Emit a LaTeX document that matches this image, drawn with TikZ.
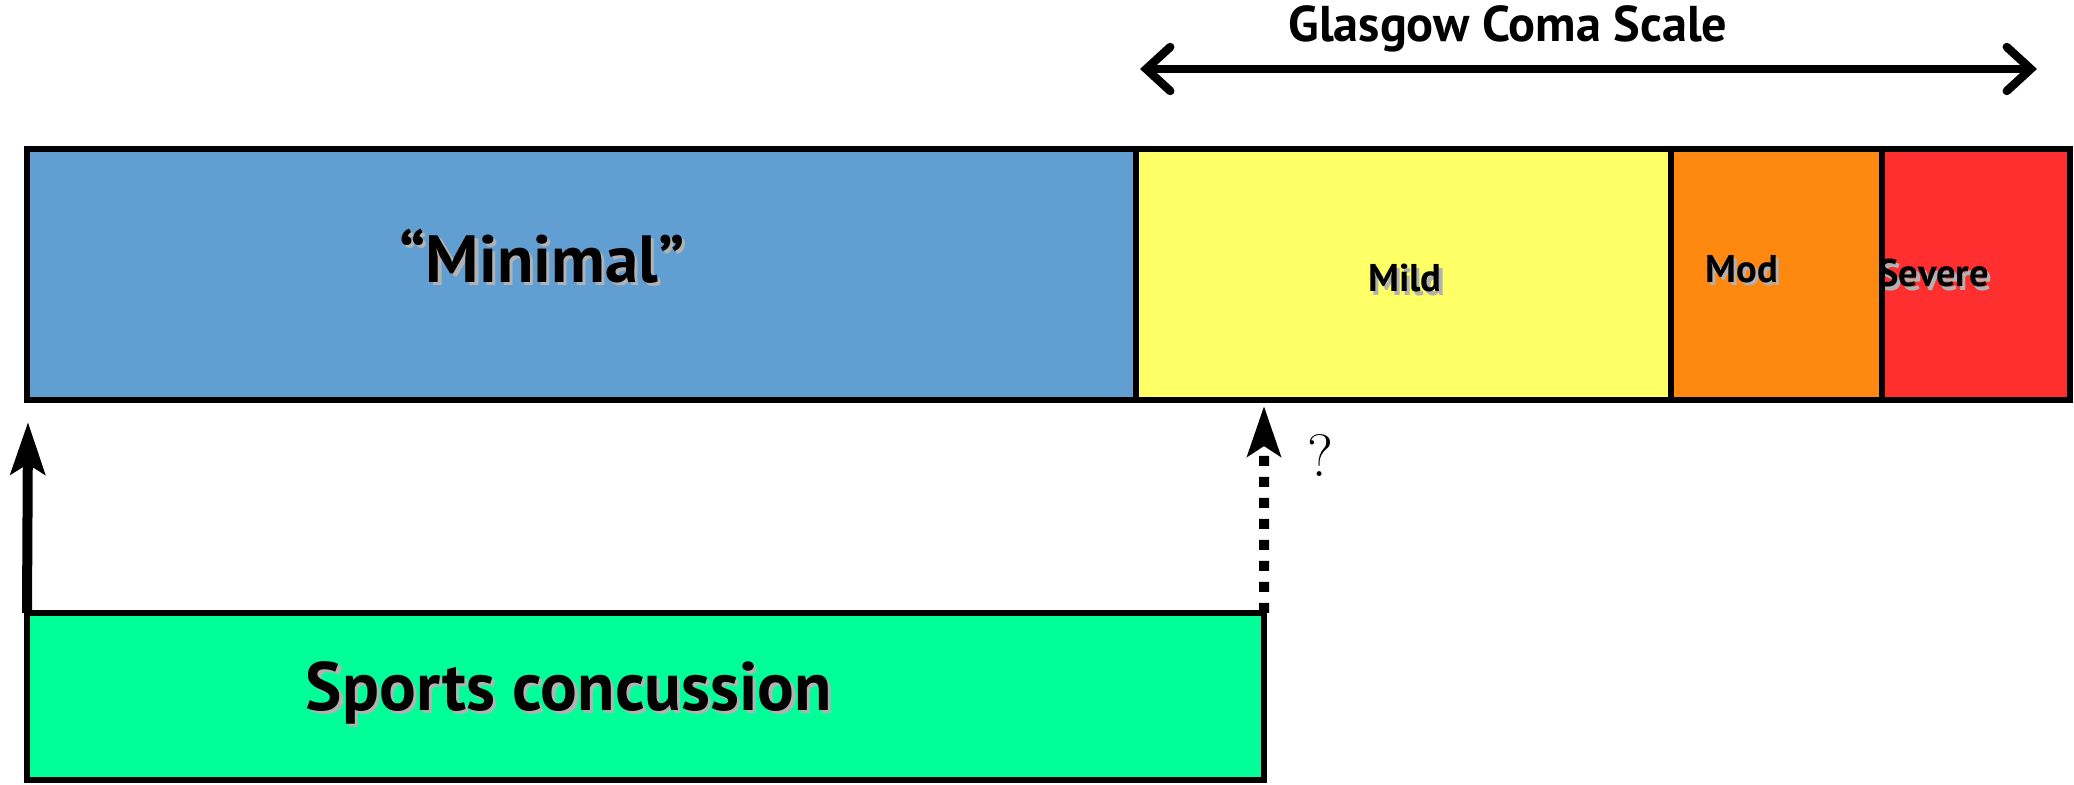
\documentclass[tikz,border=0pt]{standalone}
\usepackage{fontspec}
\newfontfamily\sansbold[Ligatures=TeX]{PT Sans}
\usetikzlibrary{arrows.meta}

\definecolor{minblue}{HTML}{619ED2}
\definecolor{mildyellow}{HTML}{FFFF66}
\definecolor{modorange}{HTML}{FF8811}
\definecolor{sevred}{HTML}{FF2F2F}
\definecolor{sportgreen}{HTML}{00FF99}

\newcommand{\shadowed}[1]{\leavevmode\rlap{\hspace{0.9pt}\raisebox{-0.9pt}{\textcolor{black!30}{#1}}}#1}

\begin{document}
\begin{tikzpicture}[
  band/.style={draw=black, line width=1.9pt, anchor=south west, outer sep=0pt, inner sep=0pt, minimum height=2.51cm},
  big/.style={font=\sansbold\bfseries\fontsize{19}{21}\selectfont},
  small/.style={font=\sansbold\bfseries\fontsize{11}{13}\selectfont},
]
\useasboundingbox (0,0) rectangle (20.74,7.85);

% severity bar
\node[band, fill=minblue, minimum width=11.09cm] (0) at (0.27,3.85) {};
\node[band, fill=mildyellow, minimum width=5.35cm] (1) at (11.36,3.85) {};
\node[band, fill=sevred, minimum width=1.88cm] (3) at (18.82,3.85) {};
\node[small, anchor=west] (13) at (18.66,5.10) {\shadowed{Severe}};
\node[band, fill=modorange, minimum width=2.11cm] (2) at (16.71,3.85) {};

\node[big] (10) at (5.42,5.27) {\shadowed{``Minimal''}};
\node[small] (11) at (14.05,5.05) {\shadowed{Mild}};
\node[small] (12) at (17.42,5.14) {\shadowed{Mod}};

% sports concussion box
\node[band, fill=sportgreen, minimum width=12.37cm, minimum height=1.67cm] (4) at (0.27,0.05) {};
\node[font=\sansbold\bfseries\fontsize{19.5}{21}\selectfont] (14) at (5.69,0.91) {\shadowed{Sports concussion}};

\coordinate (5) at (0.28,3.63);
\coordinate (6) at (12.64,3.79);
\draw[-{Stealth[length=0.52cm,width=0.34cm,inset=0.1cm]}, line width=0.1cm] (4.north west) -- (5);
\draw[-{Stealth[length=0.5cm,width=0.33cm,inset=0.1cm]}, line width=0.1cm, dash pattern=on 0.1cm off 0.11cm] (4.north east) -- (6);
\node[font=\fontsize{17}{17}\selectfont] (15) at (13.20,3.29) {?};

% glasgow coma scale range
\coordinate (7) at (11.40,7.16);
\coordinate (8) at (20.37,7.16);
\draw[{Straight Barb[length=0.24cm,width=0.44cm,line cap=round]}-{Straight Barb[length=0.24cm,width=0.44cm,line cap=round]}, line width=2.4pt] (7) -- (8);
\node[font=\sansbold\bfseries\fontsize{14.3}{16}\selectfont] (9) at (15.08,7.56) {Glasgow Coma Scale};
\end{tikzpicture}
\end{document}
